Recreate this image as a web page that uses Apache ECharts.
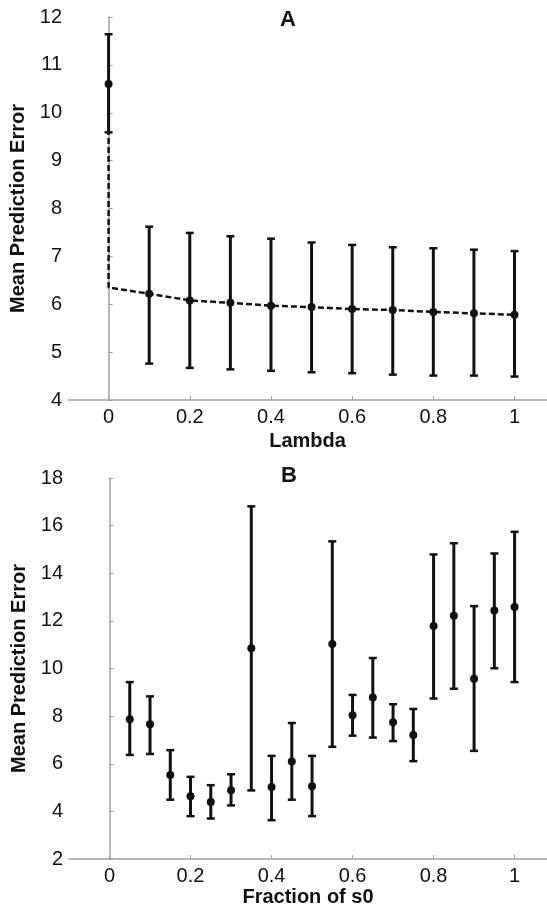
<!DOCTYPE html>
<html>
<head>
<meta charset="utf-8">
<script src="https://cdn.jsdelivr.net/npm/echarts@6/dist/echarts.min.js"></script>
<style>
  html, body { margin: 0; padding: 0; background: #fff; }
  #main { width: 547px; height: 914px; }
</style>
</head>
<body>
<div id="main"></div>
<script>
// panel A: error vs lambda
var lambdaX = [0, 0.1, 0.2, 0.3, 0.4, 0.5, 0.6, 0.7, 0.8, 0.9, 1];
var lambdaMean = [10.60, 6.22, 6.08, 6.03, 5.97, 5.94, 5.90, 5.88, 5.84, 5.81, 5.78];
var lambdaLow = [9.59, 4.76, 4.67, 4.64, 4.61, 4.58, 4.56, 4.53, 4.51, 4.51, 4.49];
var lambdaHigh = [11.64, 7.62, 7.49, 7.42, 7.37, 7.29, 7.24, 7.19, 7.17, 7.14, 7.11];
// dashed curve (drops straight down at lambda = 0)
var curveX = [0, 0, 0.1, 0.2, 0.3, 0.4, 0.5, 0.6, 0.7, 0.8, 0.9, 1];
var curveY = [10.60, 6.35, 6.22, 6.08, 6.03, 5.97, 5.94, 5.90, 5.88, 5.84, 5.81, 5.78];

// panel B: error vs fraction of s0
var fracX = [0.05, 0.1, 0.15, 0.2, 0.25, 0.3, 0.35, 0.4, 0.45, 0.5,
             0.55, 0.6, 0.65, 0.7, 0.75, 0.8, 0.85, 0.9, 0.95, 1];
var fracMean = [7.87, 7.66, 5.53, 4.63, 4.39, 4.89, 10.85, 5.02, 6.09, 5.05,
                11.03, 8.04, 8.78, 7.74, 7.21, 11.78, 12.21, 9.57, 12.44, 12.58];
var fracLow = [6.37, 6.41, 4.49, 3.80, 3.70, 4.25, 4.88, 3.63, 4.49, 3.80,
               6.71, 7.18, 7.10, 6.95, 6.11, 8.74, 9.15, 6.54, 10.01, 9.43];
var fracHigh = [9.43, 8.83, 6.57, 5.45, 5.10, 5.56, 16.81, 6.33, 7.71, 6.33,
                15.34, 8.89, 10.44, 8.50, 8.30, 14.79, 15.26, 12.62, 14.83, 15.74];

var xTicks = [0, 0.2, 0.4, 0.6, 0.8, 1];

var chart = echarts.init(document.getElementById('main'));
var font = 'Liberation Sans, Arial, sans-serif';

function zip(a, b, c) {
    return a.map(function (v, i) {
        return c ? [v, b[i], c[i]] : [v, b[i]];
    });
}

function errorBar(params, api) {
    var x = api.value(0);
    var lo = api.coord([x, api.value(1)]);
    var hi = api.coord([x, api.value(2)]);
    var w = 4;
    var style = {stroke: '#111', lineWidth: 3};
    var cap = {stroke: '#111', lineWidth: 2.5};
    return {
        type: 'group',
        children: [
            {type: 'line', shape: {x1: hi[0], y1: hi[1], x2: lo[0], y2: lo[1]}, style: style},
            {type: 'line', shape: {x1: hi[0] - w, y1: hi[1], x2: hi[0] + w, y2: hi[1]}, style: cap},
            {type: 'line', shape: {x1: lo[0] - w, y1: lo[1], x2: lo[0] + w, y2: lo[1]}, style: cap}
        ]
    };
}

function xAxisOf(idx, name, gap) {
    return {
        gridIndex: idx,
        type: 'value',
        min: -0.1,
        max: 1.08,
        name: name,
        nameLocation: 'middle',
        nameGap: gap,
        nameTextStyle: {fontFamily: font, fontSize: 20, fontWeight: 'bold', color: '#111'},
        axisLine: {lineStyle: {color: '#a0a0a0', width: 1.5}},
        axisTick: {inside: true, length: 4, customValues: xTicks, lineStyle: {color: '#a0a0a0'}},
        axisLabel: {customValues: xTicks, fontFamily: font, fontSize: 20, color: '#111', margin: 7},
        splitLine: {show: false}
    };
}

function yAxisOf(idx, min, max, step) {
    return {
        gridIndex: idx,
        type: 'value',
        min: min,
        max: max,
        interval: step,
        name: 'Mean Prediction Error',
        nameLocation: 'middle',
        nameRotate: 90,
        nameGap: 39,
        nameTextStyle: {fontFamily: font, fontSize: 20, fontWeight: 'bold', color: '#111'},
        axisLine: {show: true, lineStyle: {color: '#a0a0a0', width: 1.5}},
        axisTick: {show: true, inside: true, length: 4, lineStyle: {color: '#a0a0a0'}},
        axisLabel: {fontFamily: font, fontSize: 20, color: '#111', margin: 6},
        splitLine: {show: false}
    };
}

var option = {
    backgroundColor: '#fff',
    animation: false,
    title: [{
        text: 'A', left: 283, top: 4, textAlign: 'center',
        textStyle: {fontFamily: font, fontSize: 22, fontWeight: 'bold', color: '#111'}
    }, {
        text: 'B', left: 284, top: 460, textAlign: 'center',
        textStyle: {fontFamily: font, fontSize: 22, fontWeight: 'bold', color: '#111'}
    }],
    grid: [
        {left: 68, right: 0, top: 17, height: 383},
        {left: 69, right: 0, top: 478, height: 381}
    ],
    xAxis: [xAxisOf(0, 'Lambda', 31), xAxisOf(1, 'Fraction of s0', 28)],
    yAxis: [yAxisOf(0, 4, 12, 1), yAxisOf(1, 2, 18, 2)],
    series: [{
        type: 'line',
        xAxisIndex: 0, yAxisIndex: 0,
        data: zip(curveX, curveY),
        symbol: 'none',
        lineStyle: {color: '#111', width: 2.5, type: [6, 3]},
        z: 2
    }, {
        type: 'custom',
        xAxisIndex: 0, yAxisIndex: 0,
        renderItem: errorBar,
        data: zip(lambdaX, lambdaLow, lambdaHigh),
        z: 3
    }, {
        type: 'scatter',
        xAxisIndex: 0, yAxisIndex: 0,
        data: zip(lambdaX, lambdaMean),
        symbolSize: 8,
        itemStyle: {color: '#111', opacity: 1},
        z: 4
    }, {
        type: 'custom',
        xAxisIndex: 1, yAxisIndex: 1,
        renderItem: errorBar,
        data: zip(fracX, fracLow, fracHigh),
        z: 3
    }, {
        type: 'scatter',
        xAxisIndex: 1, yAxisIndex: 1,
        data: zip(fracX, fracMean),
        symbolSize: 8,
        itemStyle: {color: '#111', opacity: 1},
        z: 4
    }]
};

chart.setOption(option);
</script>
</body>
</html>
